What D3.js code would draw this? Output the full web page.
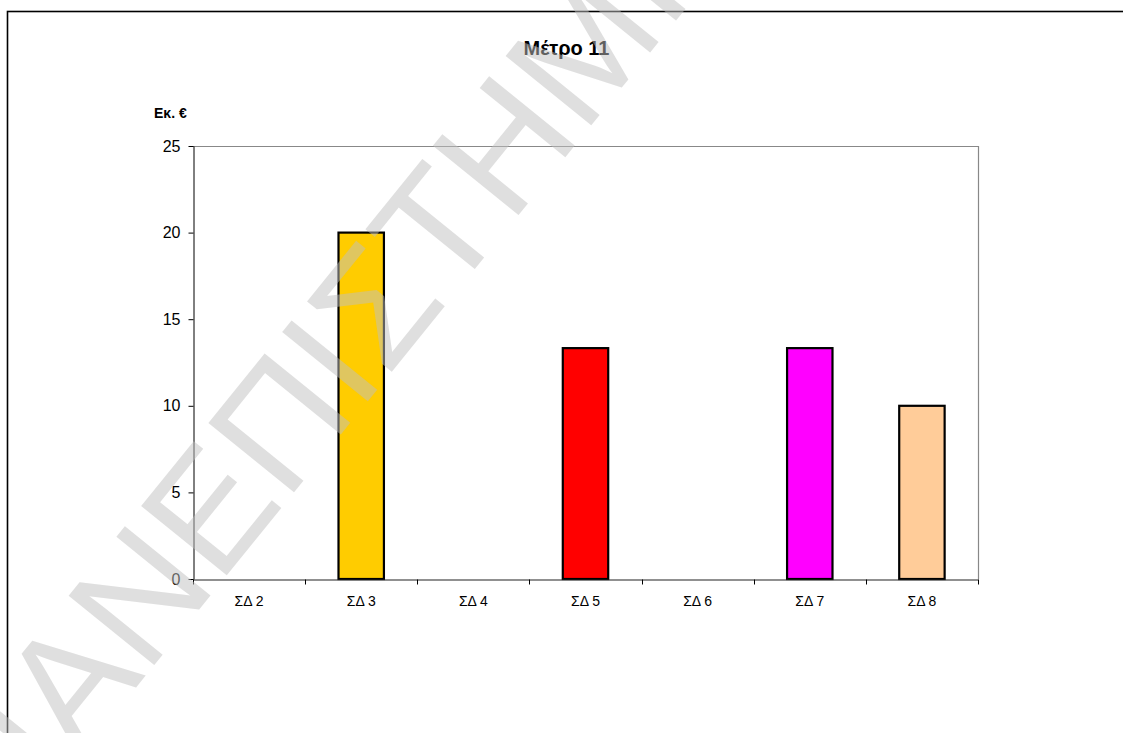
<!DOCTYPE html>
<html>
<head>
<meta charset="utf-8">
<script src="https://cdn.jsdelivr.net/npm/d3@7"></script>
<style>
  html, body { margin: 0; padding: 0; background: #fff; }
  svg { display: block; }
  text { font-family: "Liberation Sans", Arial, sans-serif; }
</style>
</head>
<body>
<svg id="chart" width="1123" height="733"></svg>
<script>
// Amounts per ΣΔ (million €)
const categories = ["ΣΔ 2", "ΣΔ 3", "ΣΔ 4", "ΣΔ 5", "ΣΔ 6", "ΣΔ 7", "ΣΔ 8"];
const values = [0, 20, 0, 13.33, 0, 13.33, 10];
const barColors = ["#9999FF", "#FFCC00", "#339966", "#FF0000", "#00CCFF", "#FF00FF", "#FFCC99"];
const yTicks = [0, 5, 10, 15, 20, 25];
const titleText = "Μέτρο 11";
const unitText = "Εκ. €";
const watermarkText = "ΠΑΝΕΠΙΣΤΗΜΙΟ";

const W = 1123, H = 733;
const plot = { left: 193, top: 146, right: 978, bottom: 579 };

const svg = d3.select("#chart");

// outer frame (left and top edges visible within the page)
svg.append("rect")
  .attr("x", 7.5).attr("y", 11.5)
  .attr("width", 1300).attr("height", 900)
  .attr("fill", "none").attr("stroke", "#000").attr("stroke-width", 1.6);

const x = d3.scaleBand().domain(categories).range([plot.left, plot.right]).padding(0);
const y = d3.scaleLinear().domain([0, 25]).range([plot.bottom, plot.top]);

// plot area border: top and right in grey
svg.append("path")
  .attr("d", `M${plot.left},${plot.top + 0.5}H${plot.right + 0.5}V${plot.bottom}`)
  .attr("fill", "none").attr("stroke", "#888").attr("stroke-width", 1.2);

// bars
const barW = x.bandwidth() * 0.405;
svg.append("g").selectAll("rect")
  .data(categories.map((c, i) => ({ c, v: values[i], col: barColors[i] })))
  .join("rect")
  .attr("x", d => x(d.c) + (x.bandwidth() - barW) / 2)
  .attr("y", d => y(d.v))
  .attr("width", barW)
  .attr("height", d => y(0) - y(d.v))
  .attr("fill", d => d.col)
  .attr("stroke", d => d.v > 0 ? "#000" : "none")
  .attr("stroke-width", 2.2);

// y axis
const yAxis = svg.append("g")
  .attr("transform", `translate(${plot.left + 0.5},0)`)
  .call(d3.axisLeft(y).tickValues(yTicks).tickSize(5).tickPadding(8).tickSizeOuter(0));
yAxis.select(".domain").attr("stroke", "#000");
yAxis.selectAll(".tick line").attr("stroke", "#000");
yAxis.selectAll(".tick text")
  .attr("font-size", 16).attr("fill", "#000")
  .attr("font-family", "'Liberation Sans', Arial, sans-serif");

// x axis: labels centred in bands, ticks on band boundaries
const xAxis = svg.append("g")
  .attr("transform", `translate(0,${plot.bottom + 0.5})`)
  .call(d3.axisBottom(x).tickSize(0).tickPadding(17).tickSizeOuter(0));
xAxis.select(".domain").attr("stroke", "#222").attr("stroke-width", 1.2);
xAxis.selectAll(".tick text")
  .attr("font-size", 14).attr("fill", "#000")
  .attr("font-family", "'Liberation Sans', Arial, sans-serif");
const boundaries = categories.map(c => x(c)).concat([plot.right]);
xAxis.append("g").selectAll("line")
  .data(boundaries)
  .join("line")
  .attr("x1", d => Math.round(d) + 0.5).attr("x2", d => Math.round(d) + 0.5)
  .attr("y1", 0).attr("y2", 5)
  .attr("stroke", "#000");

// title and unit label
svg.append("text")
  .attr("x", 566.5).attr("y", 55)
  .attr("text-anchor", "middle")
  .attr("font-size", 20).attr("font-weight", "bold")
  .text(titleText);

svg.append("text")
  .attr("x", 154).attr("y", 118)
  .attr("font-size", 14).attr("font-weight", "bold")
  .text(unitText);

// diagonal watermark over everything
svg.append("text")
  .attr("transform", "translate(6,848) rotate(-51)")
  .attr("font-size", 160)
  .attr("fill", "#c0c0c0").attr("fill-opacity", 0.5)
  .text(watermarkText);
</script>
</body>
</html>
